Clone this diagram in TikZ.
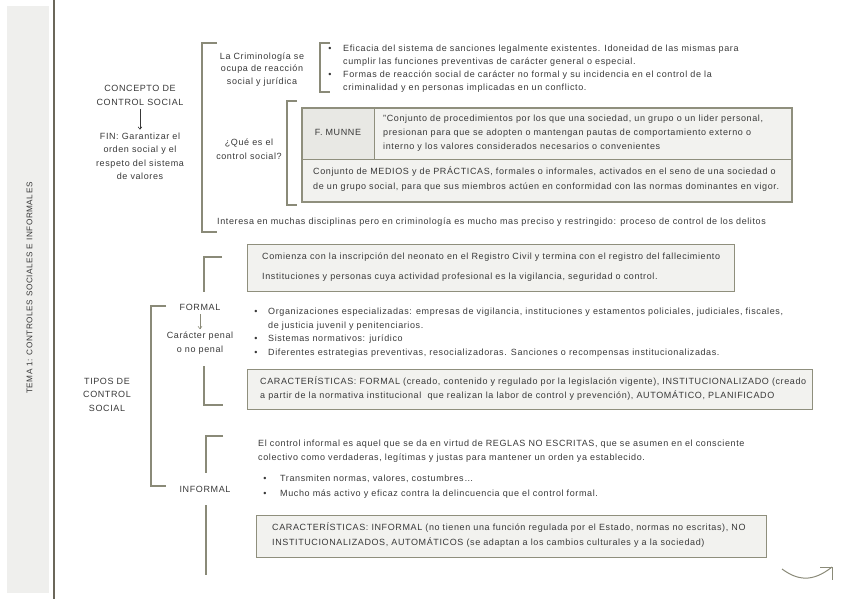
\documentclass[tikz,border=0pt]{standalone}
\usepackage{fontspec}
\setmainfont{Liberation Sans}[LetterSpace=6.8]
\usetikzlibrary{arrows.meta}
\definecolor{ink}{HTML}{383838}
\definecolor{brk}{HTML}{8A8A78}
\definecolor{darkline}{HTML}{6B675A}
\definecolor{panel}{HTML}{EFEFED}
\definecolor{boxfill}{HTML}{F2F2EF}
\definecolor{cellfill}{HTML}{E8E8E4}
\definecolor{boxdraw}{HTML}{8F8F7D}
\newcommand\fs{\fontsize{9}{13.5}\selectfont}
\tikzset{
  txt/.style={inner sep=0pt, text=ink, font=\fs},
  one/.style={text height=6.4pt, text depth=1.9pt},
  ltxt/.style={txt, anchor=west, align=left},
  ctxt/.style={txt, align=center},
  brack/.style={draw=brk, line width=1.6pt},
  tbox/.style={draw=boxdraw, line width=1.3pt, fill=boxfill},
  arr/.style={draw=ink, line width=0.6pt, -{Straight Barb[length=2.5pt,width=4pt]}},
}
\begin{document}
\begin{tikzpicture}[x=1pt,y=-1pt]
\useasboundingbox (0,0) rectangle (848,599);
% side panel
\fill[panel] (7,6) rectangle (49,593);
\draw[darkline, line width=2pt] (54,0) -- (54,599);
\node[txt, one, rotate=90, font=\fontsize{8.2}{9}\selectfont] (tema) at (30,288) {TEMA 1: CONTROLES SOCIALES E INFORMALES};

% concept
\node[ctxt] (concepto) at (140,95.5) {CONCEPTO DE\\CONTROL SOCIAL};
\node[ctxt] (fin) at (140,156.5) {FIN: Garantizar el\\orden social y el\\respeto del sistema\\de valores};
\draw[arr, shorten <=3pt, shorten >=3pt] (concepto) -- (fin);

% big bracket 1
\draw[brack] (217,43) -- (202,43) -- (202,232) -- (217,232);
\node[ctxt, font=\fontsize{9}{12.5}\selectfont] (crimi) at (262,69.5) {La Criminología se\\ocupa de reacción\\social y jurídica};

% bracket 2
\draw[brack] (330,43) -- (320,43) -- (320,92) -- (330,92);
\node[txt, one] (b1) at (330,49) {•};
\node[ltxt] (e1) at (343,55.5) {Eficacia del sistema de sanciones legalmente existentes. Idoneidad de las mismas para\\cumplir las funciones preventivas de carácter general o especial.};
\node[txt, one] (b2) at (330,75) {•};
\node[ltxt] (e2) at (343,81.5) {Formas de reacción social de carácter no formal y su incidencia en el control de la\\criminalidad y en personas implicadas en un conflicto.};

% que es
\node[ctxt] (que) at (249,149) {¿Qué es el\\control social?};
\draw[brack] (297,101) -- (287,101) -- (287,205) -- (297,205);

% table
\node[tbox, minimum width=489pt, minimum height=93pt, anchor=north west, inner sep=0pt] (tabla) at (302,108) {};
\fill[cellfill] (303,109) rectangle (374,159);
\draw[boxdraw, line width=1pt] (302,159) -- (791,159);
\draw[boxdraw, line width=1pt] (374,108) -- (374,159);
\draw[boxdraw, line width=1.3pt] (tabla.north west) rectangle (tabla.south east);
\node[txt, one] (munne) at (338,133) {F. MUNNE};
\node[ltxt, font=\fontsize{9}{14}\selectfont] (quote) at (383,133) {"Conjunto de procedimientos por los que una sociedad, un grupo o un lider personal,\\presionan para que se adopten o mantengan pautas de comportamiento externo o\\interno y los valores considerados necesarios o convenientes};
\node[ltxt, font=\fontsize{9}{15}\selectfont] (medios) at (313,179.5) {Conjunto de MEDIOS y de PRÁCTICAS, formales o informales, activados en el seno de una sociedad o\\de un grupo social, para que sus miembros actúen en conformidad con las normas dominantes en vigor.};

\node[ltxt, one] (interesa) at (217,222) {Interesa en muchas disciplinas pero en criminología es mucho mas preciso y restringido: proceso de control de los delitos};

% lower part
\node[tbox, minimum width=487pt, minimum height=47pt, anchor=north west, inner sep=0pt] (comienza) at (247,244) {};
\node[ltxt, one] (c1) at (262,257) {Comienza con la inscripción del neonato en el Registro Civil y termina con el registro del fallecimiento};
\node[ltxt, one] (c2) at (262,277.5) {Instituciones y personas cuya actividad profesional es la vigilancia, seguridad o control.};
\draw[brack] (222,257) -- (204,257) -- (204,292);

\draw[brack] (166,306) -- (151,306) -- (151,486) -- (166,486);
\node[ctxt] (tipos) at (107,394.5) {TIPOS DE\\CONTROL\\SOCIAL};

\node[txt, one] (formal) at (200,308) {FORMAL};
\node[ctxt] (caracter) at (200,343) {Carácter penal\\o no penal};
\draw[arr, draw=brk, shorten <=2pt, shorten >=2.5pt] (formal) -- (caracter);

\node[txt, one] (fb1) at (256,312) {•};
\node[ltxt] (f1) at (268,319) {Organizaciones especializadas: empresas de vigilancia, instituciones y estamentos policiales, judiciales, fiscales,\\de justicia juvenil y penitenciarios.};
\node[txt, one] (fb2) at (256,339) {•};
\node[ltxt, one] (f2) at (268,339) {Sistemas normativos: jurídico};
\node[txt, one] (fb3) at (256,353) {•};
\node[ltxt, one] (f3) at (268,353) {Diferentes estrategias preventivas, resocializadoras. Sanciones o recompensas institucionalizadas.};

\draw[brack] (204,366) -- (204,405) -- (223,405);
\node[tbox, minimum width=565pt, minimum height=40pt, anchor=north west, inner sep=0pt] (carf) at (247,369) {};
\node[ltxt, font=\fontsize{9}{14}\selectfont] (carft) at (260,389) {CARACTERÍSTICAS: FORMAL (creado, contenido y regulado por la legislación vigente), INSTITUCIONALIZADO (creado\\a partir de la normativa institucional\ \ que realizan la labor de control y prevención), AUTOMÁTICO, PLANIFICADO};

\draw[brack] (223,436) -- (206,436) -- (206,473);
\node[txt, one] (informal) at (205,490) {INFORMAL};
\draw[brack, line width=1.4pt] (206,505) -- (206,575);

\node[ltxt] (inf1) at (258,451) {El control informal es aquel que se da en virtud de REGLAS NO ESCRITAS, que se asumen en el consciente\\colectivo como verdaderas, legítimas y justas para mantener un orden ya establecido.};
\node[txt, one] (ib1) at (265,479) {•};
\node[ltxt, one] (i1) at (280,479) {Transmiten normas, valores, costumbres…};
\node[txt, one] (ib2) at (265,494) {•};
\node[ltxt, one] (i2) at (280,494) {Mucho más activo y eficaz contra la delincuencia que el control formal.};

\node[tbox, minimum width=510pt, minimum height=42pt, anchor=north west, inner sep=0pt] (cari) at (256,515) {};
\node[ltxt, font=\fontsize{9}{15}\selectfont] (carit) at (272,535.5) {CARACTERÍSTICAS: INFORMAL (no tienen una función regulada por el Estado, normas no escritas), NO\\INSTITUCIONALIZADOS, AUTOMÁTICOS (se adaptan a los cambios culturales y a la sociedad)};

% curved arrow
\coordinate (ca) at (782,569);
\coordinate (cb) at (832,567);
\draw[brk, line width=1pt] (ca) .. controls (797,580) and (812,583) .. (cb);
\draw[brk, line width=1pt] (820,567) -- (cb) -- (832,580);
\end{tikzpicture}
\end{document}
